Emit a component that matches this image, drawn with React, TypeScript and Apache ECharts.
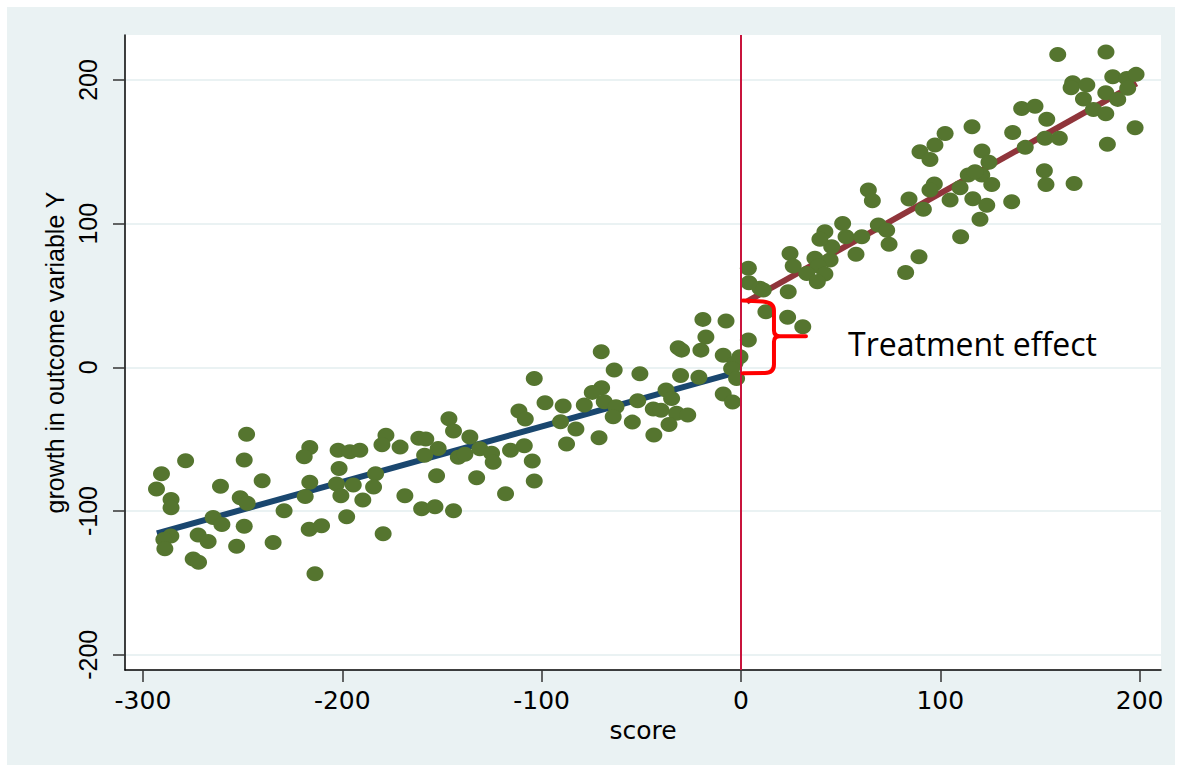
import React, { useEffect, useRef } from "react";
import * as echarts from "echarts";

const xTicks = [-300, -200, -100, 0, 100, 200];
const yTicks = [-200, -100, 0, 100, 200];
const xName = "score";
const yName = "growth in outcome variable Y";
const annotationText = "Treatment effect";
const cutoff = 0;

// observations below the cutoff (score < 0)
const leftPoints: [number, number][] = [
  [-248.0, -46.6], [-278.6, -65.0], [-249.2, -64.5], [-216.3, -55.7], [-219.1, -62.2], [-202.1, -57.6],
  [-196.2, -58.7], [-191.2, -57.6], [-290.7, -74.0], [-201.6, -70.3], [-293.2, -84.7], [-261.1, -82.8],
  [-240.2, -78.9], [-216.3, -80.0], [-202.9, -81.2], [-285.9, -91.9], [-285.9, -97.7], [-251.2, -90.7],
  [-247.7, -94.6], [-218.6, -89.8], [-200.7, -89.4], [-229.2, -99.8], [-197.8, -104.0], [-264.8, -104.4],
  [-260.4, -109.3], [-249.2, -110.6], [-286.0, -117.4], [-289.5, -119.7], [-289.0, -126.2], [-272.3, -116.7],
  [-267.3, -121.1], [-253.0, -124.4], [-234.7, -121.8], [-216.6, -112.7], [-210.4, -110.2], [-274.8, -133.4],
  [-272.1, -135.7], [-213.7, -143.6],
  [-103.7, -7.7], [-98.3, -24.6], [-111.4, -30.4], [-108.2, -36.0], [-146.5, -35.8], [-144.2, -44.3],
  [-178.1, -47.3], [-180.1, -53.9], [-171.0, -55.5], [-161.6, -49.4], [-158.1, -49.9], [-136.0, -48.5],
  [-151.9, -56.4], [-158.7, -61.2], [-131.0, -56.6], [-125.1, -59.8], [-115.6, -57.6], [-108.7, -54.6],
  [-141.8, -62.6], [-138.5, -60.5], [-124.3, -66.1], [-104.7, -65.2], [-183.3, -74.0], [-152.7, -75.4],
  [-132.6, -76.8], [-103.7, -79.1], [-194.5, -81.9], [-184.3, -83.3], [-189.7, -92.3], [-168.6, -89.4],
  [-118.1, -88.0], [-160.2, -98.4], [-153.5, -97.0], [-144.2, -99.8], [-179.5, -115.8],
  [-19.1, 33.4], [-7.5, 32.2], [-17.6, 21.1], [-31.5, 13.6], [-29.8, 12.0], [-20.1, 12.0],
  [-70.1, 10.9], [-8.9, 8.4], [-0.5, 7.4], [-3.0, 3.0], [-63.6, -1.9], [-50.7, -4.5],
  [-30.3, -5.6], [-21.1, -6.8], [-4.7, -0.7], [-2.2, -7.7], [-69.9, -14.2], [-74.6, -17.4],
  [-37.6, -15.8], [-34.8, -21.6], [-8.9, -18.6], [-4.2, -24.1], [-89.2, -26.9], [-78.6, -26.2],
  [-68.6, -23.9], [-62.7, -27.4], [-51.8, -23.2], [-44.0, -29.0], [-40.1, -29.9], [-32.3, -32.0],
  [-26.7, -33.2], [-64.1, -34.4], [-90.5, -37.9], [-82.8, -42.9], [-54.5, -38.1], [-36.1, -39.7],
  [-71.2, -49.0], [-43.7, -47.1], [-87.5, -53.4],
];

// observations above the cutoff (score >= 0)
const rightPoints: [number, number][] = [
  [3.7, 19.0], [3.7, 68.9], [4.0, 58.9], [9.5, 55.0], [11.2, 53.8], [23.7, 52.6], [12.5, 38.7],
  [23.4, 34.8], [31.0, 28.3], [24.6, 79.3], [26.2, 70.5], [57.7, 78.8], [37.1, 75.9], [44.7, 74.7],
  [38.8, 70.5], [33.0, 65.4], [42.1, 64.9], [38.3, 59.6], [45.5, 83.9], [51.0, 100.2], [42.1, 94.4],
  [39.6, 89.1], [52.7, 90.9], [60.6, 90.9], [68.9, 99.0], [73.1, 95.5], [74.3, 85.6], [89.3, 77.0],
  [82.6, 66.1], [63.9, 123.4], [65.9, 115.9], [84.3, 117.1], [91.5, 110.0], [97.0, 127.6], [94.8, 123.4],
  [104.9, 116.4], [102.4, 162.8], [97.3, 154.7], [89.8, 150.0], [94.8, 144.7], [158.9, 217.8], [183.1, 219.4],
  [166.4, 198.1], [165.6, 194.6], [173.5, 196.5], [186.5, 202.2], [193.5, 201.1], [198.2, 203.9], [183.0, 191.1],
  [189.0, 186.5], [194.0, 194.2], [171.8, 186.7], [140.8, 180.2], [147.5, 181.8], [153.4, 172.6], [176.8, 179.5],
  [183.0, 176.5], [197.7, 166.7], [115.9, 167.4], [136.3, 163.5], [152.5, 159.4], [159.7, 159.4], [142.6, 153.1],
  [183.8, 155.2], [120.9, 150.5], [124.4, 142.7], [114.0, 133.8], [120.8, 133.8], [117.4, 136.1], [125.8, 127.3],
  [109.9, 125.0], [152.2, 136.8], [153.0, 127.3], [167.1, 128.0], [116.3, 117.3], [123.3, 112.9], [135.8, 115.2],
  [119.9, 103.0], [110.2, 90.9],
];

// linear fits on each side of the cutoff
const leftFit: [number, number][] = [[-293, -115.5], [-1, -3]];
const rightFit: [number, number][] = [[2.9, 45.7], [198.5, 197.6]];

// brace annotation: spans from the left-fit value to the right-fit value at the cutoff
const braceTop = 46.5;
const braceBottom = -4;
const braceLeftX = 1;
const labelAt: [number, number] = [53.7, 16.9];

const BRACE_D =
  "M0 0 L20 1 Q31 2 31 10 L31 30 Q31 35.6 37 35.6 L63 35.6 M37 35.6 Q31 35.6 31 41 L31 64 Q31 72.3 22 72.4 L0 72.6";
const BRACE_H = 72.6;

let registered = false;
function ensureShape() {
  if (registered) return;
  echarts.graphic.registerShape("brace", echarts.graphic.extendPath(BRACE_D, {}) as any);
  registered = true;
}

export default function App() {
  const ref = useRef<HTMLDivElement>(null);

  useEffect(() => {
    if (!ref.current) return;
    ensureShape();
    const chart = echarts.init(ref.current, undefined, { renderer: "svg" });
    const axisFont = "DejaVu Sans";
    const yFont = "Liberation Sans";
    chart.setOption({
      animation: false,
      backgroundColor: "transparent",
      grid: {
        left: 125,
        top: 35,
        width: 1036,
        height: 635,
        show: true,
        backgroundColor: "#ffffff",
        borderWidth: 0,
      },
      xAxis: {
        type: "value",
        min: -309,
        max: 210.7,
        name: xName,
        nameLocation: "middle",
        nameGap: 45,
        nameTextStyle: { fontFamily: axisFont, fontSize: 25, color: "#000" },
        axisLine: { show: true, onZero: false, lineStyle: { color: "#000", width: 1.5 } },
        axisTick: { show: true, length: 12, customValues: xTicks, lineStyle: { color: "#333", width: 1.5 } },
        axisLabel: { customValues: xTicks, margin: 18, fontFamily: axisFont, fontSize: 25, color: "#000" },
        splitLine: { show: false },
      },
      yAxis: {
        type: "value",
        min: -210.6,
        max: 231.3,
        name: yName,
        nameLocation: "middle",
        nameGap: 52,
        nameRotate: 90,
        nameTextStyle: { fontFamily: yFont, fontSize: 25, color: "#000" },
        axisLine: { show: true, onZero: false, lineStyle: { color: "#000", width: 1.5 } },
        axisTick: { show: true, length: 12, customValues: yTicks, lineStyle: { color: "#333", width: 1.5 } },
        axisLabel: { customValues: yTicks, rotate: 90, margin: 25, fontFamily: yFont, fontSize: 25, color: "#000" },
        splitLine: { show: true, lineStyle: { color: "#eaf2f3", width: 2 } },
      },
      series: [
        {
          type: "line",
          data: leftFit,
          symbol: "none",
          lineStyle: { color: "#1a476f", width: 6 },
          z: 2,
          markLine: {
            silent: true,
            symbol: "none",
            label: { show: false },
            lineStyle: { color: "#c8143c", width: 2, type: "solid" },
            data: [{ xAxis: cutoff }],
          },
        },
        {
          type: "line",
          data: rightFit,
          symbol: "none",
          lineStyle: { color: "#90353b", width: 6 },
          z: 2,
        },
        {
          type: "scatter",
          data: [...leftPoints, ...rightPoints],
          symbol: "circle",
          symbolSize: [17, 15],
          itemStyle: { color: "#55752f", opacity: 1 },
          z: 3,
        },
      ],
    });

    const top = chart.convertToPixel({ gridIndex: 0 }, [braceLeftX, braceTop]) as number[];
    const bot = chart.convertToPixel({ gridIndex: 0 }, [braceLeftX, braceBottom]) as number[];
    const lab = chart.convertToPixel({ gridIndex: 0 }, labelAt) as number[];
    chart.setOption({
      graphic: [
        {
          type: "brace",
          x: top[0],
          y: top[1],
          scaleX: 1,
          scaleY: (bot[1] - top[1]) / BRACE_H,
          z: 100,
          style: { fill: "none", stroke: "#ff0000", lineWidth: 4, lineJoin: "round", lineCap: "round" },
        },
        {
          type: "text",
          x: lab[0],
          y: lab[1],
          z: 100,
          style: {
            text: annotationText,
            fontFamily: "Open Sans",
            fontSize: 32,
            fill: "#000",
            align: "left",
            verticalAlign: "middle",
          },
        },
      ],
    });

    return () => chart.dispose();
  }, []);

  return (
    <div style={{ position: "absolute", left: 0, top: 0, width: 1182, height: 771, background: "#ffffff" }}>
      <div style={{ position: "absolute", left: 7, top: 7, width: 1168, height: 758, background: "#eaf2f3" }} />
      <div ref={ref} style={{ position: "absolute", left: 0, top: 0, width: 1182, height: 771 }} />
    </div>
  );
}
